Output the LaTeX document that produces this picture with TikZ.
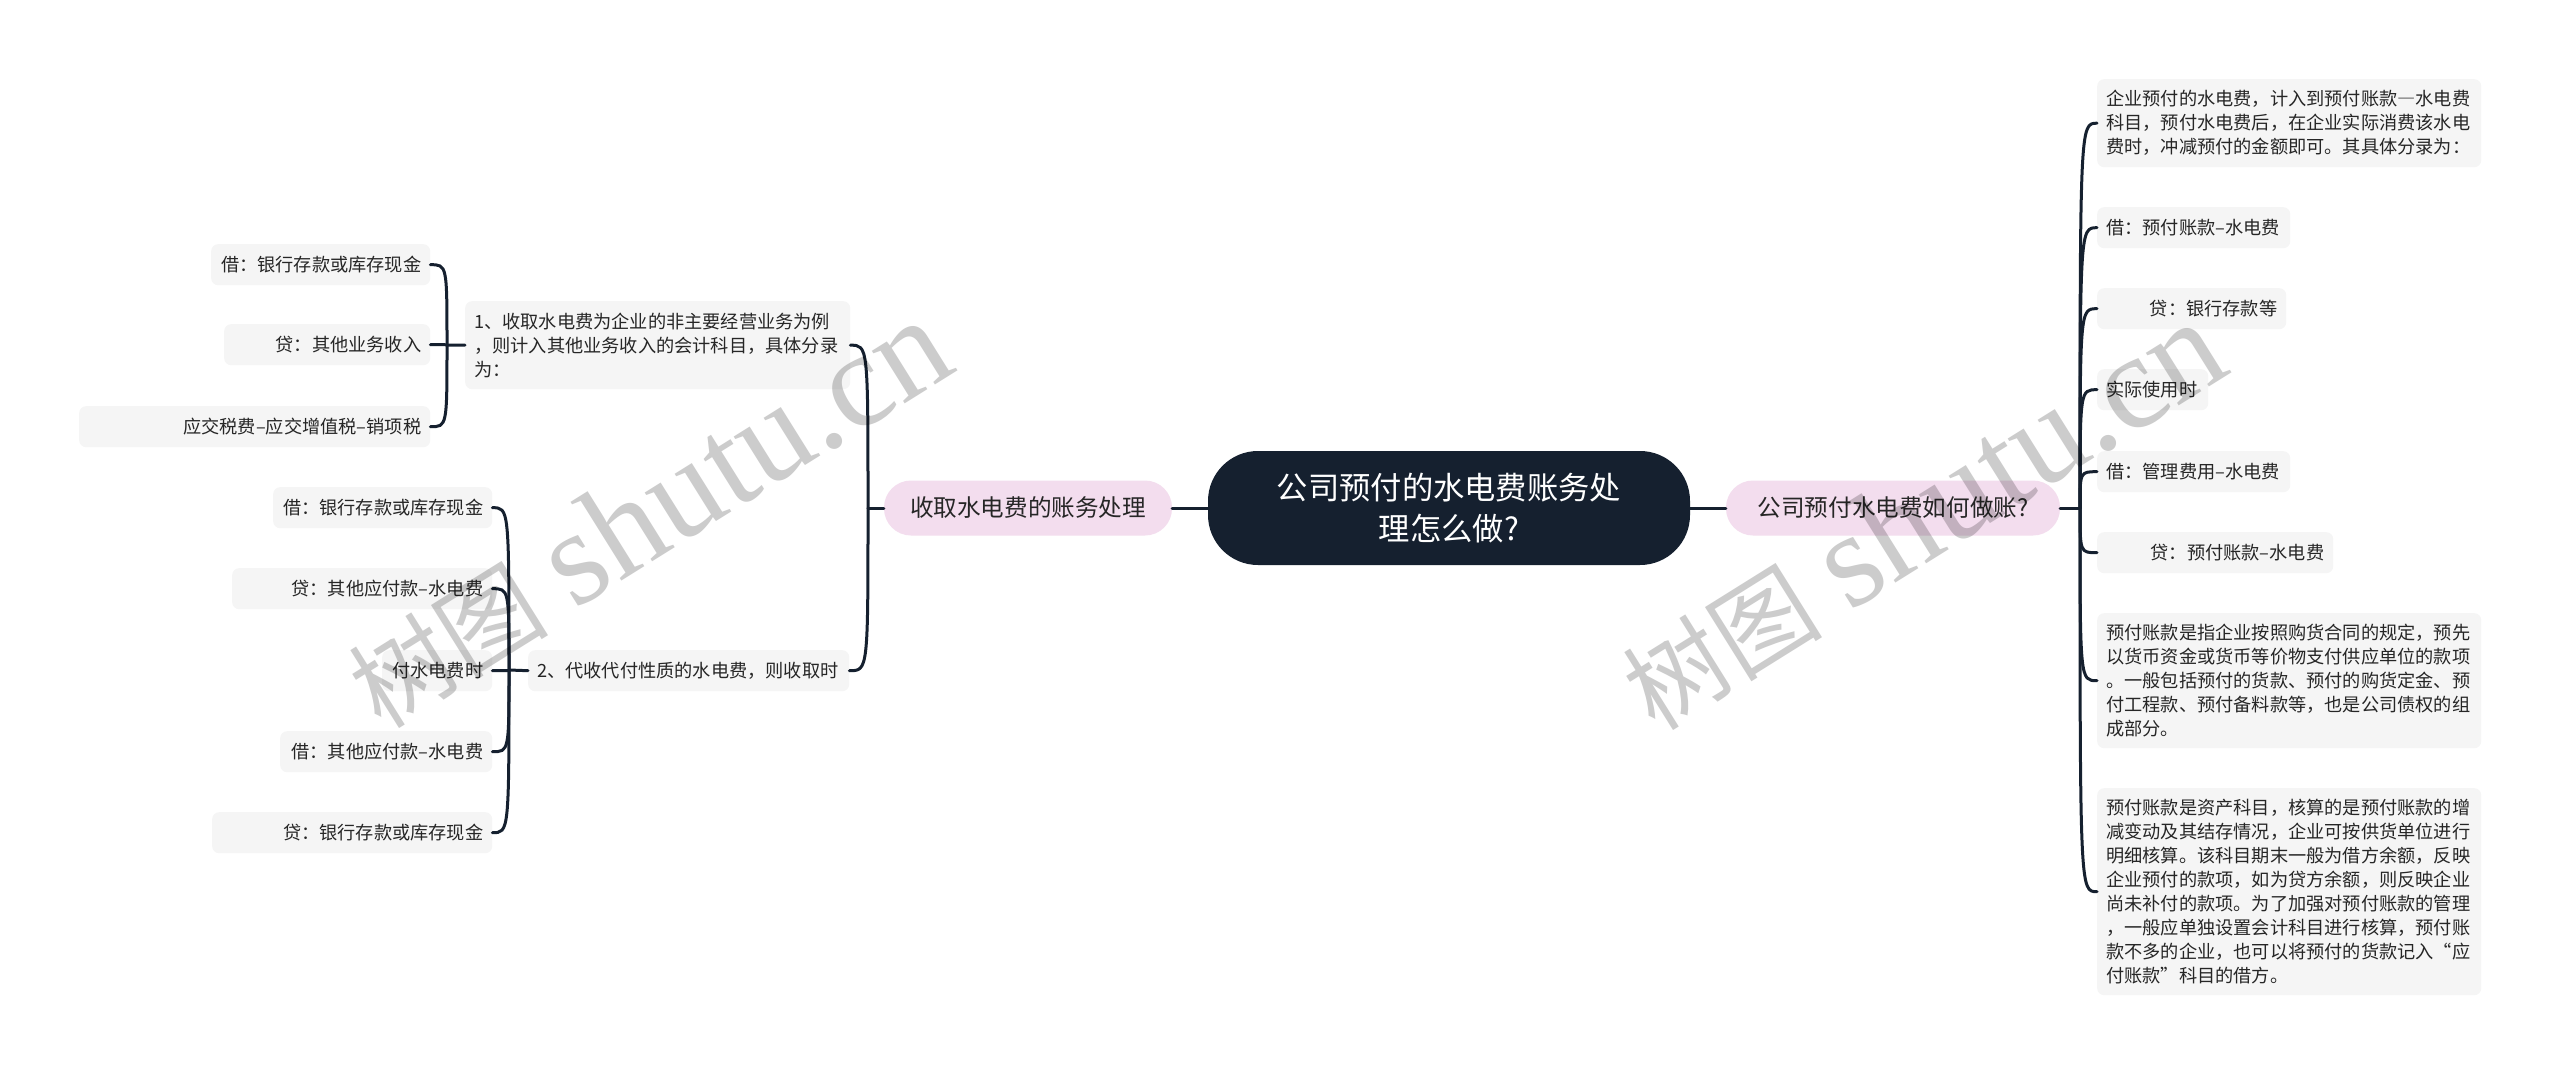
\documentclass[tikz,border=0pt]{standalone}
\usepackage{fontspec}
\setmainfont{Noto Sans CJK SC}
\newfontfamily\wmlatin{Liberation Serif}
\usetikzlibrary{calc}
\definecolor{navy}{HTML}{15202F}
\definecolor{pinkf}{HTML}{F3DDEE}
\definecolor{leaff}{HTML}{F5F5F5}
\definecolor{wmgray}{HTML}{CCCCCC}
\definecolor{txt}{HTML}{262626}
\newcommand{\fwdash}{{\addfontfeature{RawFeature=+fwid}—}}
\newcommand{\wmtext}{{\fontsize{100pt}{100pt}\selectfont 树图}\hspace{28pt}{\wmlatin\fontsize{135pt}{135pt}\selectfont shutu.cn}}
\tikzset{
  conn/.style={draw=navy, line width=3pt, line cap=round},
  brch/.style={to path={.. controls (\tikztostart |- \tikztotarget) .. (\tikztotarget)}},
  box/.style={rectangle, rounded corners=7pt, fill=leaff, inner xsep=9pt, inner ysep=0pt,
    anchor=north west, text=txt, font=\fontsize{18.2pt}{24pt}\selectfont},
  pinkbox/.style={rectangle, rounded corners=27pt, fill=pinkf, inner sep=0pt, minimum height=55pt,
    text=txt, font=\fontsize{23.6pt}{28pt}\selectfont},
  centerbox/.style={rectangle, rounded corners=50pt, fill=navy, inner sep=0pt, text=white,
    align=center, font=\fontsize{31.3pt}{41pt}\selectfont},
  wm/.style={text=wmgray, inner sep=0pt}
}
\begin{document}
\begin{tikzpicture}[x=1pt,y=-1pt]
\useasboundingbox (0,0) rectangle (2560,1074);
\fill[white] (0,0) rectangle (2560,1074);

% central and main branches
\node[centerbox, minimum width=482pt, minimum height=114pt] (C) at (1449,508) {公司预付的水电费账务处\\理怎么做?};
\node[pinkbox, minimum width=288pt] (PL) at (1028,508) {收取水电费的账务处理};
\node[pinkbox, minimum width=334pt] (PR) at (1893,508) {公司预付水电费如何做账?};

% left sub-branches
\node[box, text width=367pt, minimum height=88pt, align=left] (S1) at (465,301)
  {1、收取水电费为企业的非主要经营业务为例\\，则计入其他业务收入的会计科目，具体分录\\为：};
\node[box, text width=303pt, minimum height=41pt, align=left] (S2) at (528,650)
  {2、代收代付性质的水电费，则收取时};

\node[box, text width=201pt, minimum height=41pt, align=right] (L1a) at (211,244) {借：银行存款或库存现金};
\node[box, text width=188pt, minimum height=41pt, align=right] (L1b) at (224,324) {贷：其他业务收入};
\node[box, text width=333pt, minimum height=41pt, align=right] (L1c) at (79,406) {应交税费–应交增值税–销项税};

\node[box, text width=201pt, minimum height=41pt, align=right] (L2a) at (273,487) {借：银行存款或库存现金};
\node[box, text width=242pt, minimum height=41pt, align=right] (L2b) at (232,568) {贷：其他应付款–水电费};
\node[box, text width=92pt, minimum height=41pt, align=right] (L2c) at (382,650) {付水电费时};
\node[box, text width=194pt, minimum height=41pt, align=right] (L2d) at (280,731) {借：其他应付款–水电费};
\node[box, text width=262pt, minimum height=41pt, align=right] (L2e) at (212,812) {贷：银行存款或库存现金};

% right children
\node[box, text width=366pt, minimum height=88pt, align=left] (RA) at (2097,79)
  {企业预付的水电费，计入到预付账款\fwdash 水电费\\科目，预付水电费后，在企业实际消费该水电\\费时，冲减预付的金额即可。其具体分录为：};
\node[box, text width=175pt, minimum height=41pt, align=left] (RB) at (2097,207) {借：预付账款–水电费};
\node[box, text width=171pt, minimum height=41pt, align=right] (RC) at (2097,288) {贷：银行存款等};
\node[box, text width=93pt, minimum height=41pt, align=left] (RD) at (2097,369) {实际使用时};
\node[box, text width=175pt, minimum height=41pt, align=left] (RE) at (2097,451) {借：管理费用–水电费};
\node[box, text width=218pt, minimum height=41pt, align=right] (RF) at (2097,532) {贷：预付账款–水电费};
\node[box, text width=366pt, minimum height=135pt, align=left] (RG) at (2097,613)
  {预付账款是指企业按照购货合同的规定，预先\\以货币资金或货币等价物支付供应单位的款项\\。一般包括预付的货款、预付的购货定金、预\\付工程款、预付备料款等，也是公司债权的组\\成部分。};
\node[box, text width=366pt, minimum height=207pt, align=left] (RH) at (2097,788)
  {预付账款是资产科目，核算的是预付账款的增\\减变动及其结存情况，企业可按供货单位进行\\明细核算。该科目期末一般为借方余额，反映\\企业预付的款项，如为贷方余额，则反映企业\\尚未补付的款项。为了加强对预付账款的管理\\，一般应单独设置会计科目进行核算，预付账\\款不多的企业，也可以将预付的货款记入“应\\付账款”科目的借方。};

% connectors
\draw[conn] (PL.east) -- (C.west);
\draw[conn] (C.east) -- (PR.west);

\coordinate (jL) at (868,508);
\draw[conn] (PL.west) -- (jL);
\draw[conn] (jL) to[brch] (S1.east);
\draw[conn] (jL) to[brch] (S2.east);

\coordinate (jS1) at (447,345);
\draw[conn] (S1.west) -- (jS1);
\foreach \n in {L1a,L1b,L1c} \draw[conn] (jS1) to[brch] (\n.east);

\coordinate (jS2) at (509,670);
\draw[conn] (S2.west) -- (jS2);
\foreach \n in {L2a,L2b,L2c,L2d,L2e} \draw[conn] (jS2) to[brch] (\n.east);

\coordinate (jR) at (2080,508);
\draw[conn] (PR.east) -- (jR);
\foreach \n in {RA,RB,RC,RD,RE,RF,RG,RH} \draw[conn] (jR) to[brch] (\n.west);

% watermarks
\begin{scope}[blend mode=multiply]
\node[wm, rotate=32] (wm1) at (648,514) {\wmtext};
\node[wm, rotate=32] (wm2) at (1922,516) {\wmtext};
\end{scope}
\end{tikzpicture}
\end{document}
